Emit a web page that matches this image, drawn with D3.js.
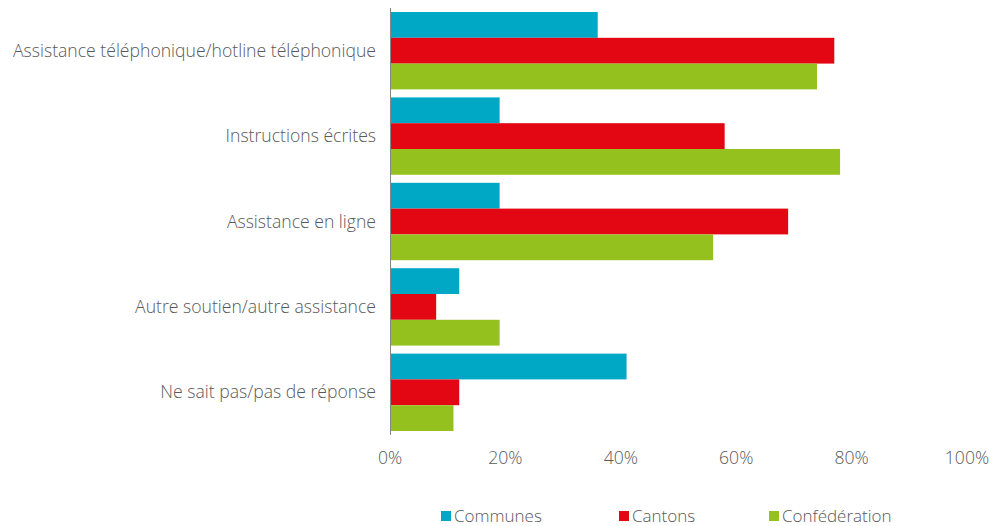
<!DOCTYPE html>
<meta charset="utf-8">
<html>
<style type='text/css'>
  body { margin:0; background:#fff; }
  text { font-family: "Open Sans", sans-serif; font-weight:300; fill:#595959; }
</style>
<script src="https://d3js.org/d3.v7.min.js"></script>
<body>
<svg id="chart" width="997" height="526"></svg>
<script>

// Data
var categories = ["Assistance téléphonique/hotline téléphonique", "Instructions écrites", "Assistance en ligne", "Autre soutien/autre assistance", "Ne sait pas/pas de réponse"];
var seriesNames = ["Communes", "Cantons", "Confédération"];
var communes = [36, 19, 19, 12, 41];
var cantons = [77, 58, 69, 8, 12];
var confederation = [74, 78, 56, 19, 11];
var tickValues = [0, 20, 40, 60, 80, 100];
var colors = ["#00a8c6", "#e30613", "#95c11f"];

var series = [communes, cantons, confederation];

var svg = d3.select("#chart");

// Scales
var x = d3.scaleLinear().domain([0, 100]).range([390, 967]);
var y = d3.scaleBand().domain(categories).range([8, 435])
  .paddingInner(0.094).paddingOuter(0.047);
var ySub = d3.scaleBand().domain(seriesNames).range([0, y.bandwidth()]);

// Bars
var groups = svg.append("g").selectAll("g")
  .data(categories)
  .enter().append("g")
  .attr("transform", function(d) { return "translate(0," + y(d) + ")"; });

groups.selectAll("rect")
  .data(function(d, i) { return seriesNames.map(function(s, j) { return {s: s, v: series[j][i], c: colors[j]}; }); })
  .enter().append("rect")
  .attr("x", x(0))
  .attr("y", function(d) { return ySub(d.s); })
  .attr("height", ySub.bandwidth())
  .attr("width", function(d) { return x(d.v) - x(0); })
  .attr("fill", function(d) { return d.c; });

// Category labels
svg.append("g").selectAll("text")
  .data(categories)
  .enter().append("text")
  .attr("x", 376)
  .attr("y", function(d) { return y(d) + y.bandwidth() / 2; })
  .attr("dy", "0.35em")
  .attr("text-anchor", "end")
  .style("font-size", "17.6px")
  .text(function(d) { return d; });

// Axis line
svg.append("line")
  .attr("x1", x(0) + 0.5).attr("x2", x(0) + 0.5)
  .attr("y1", 8).attr("y2", 435)
  .attr("stroke", "#868686").attr("stroke-width", 1);

// X tick labels
svg.append("g").selectAll("text")
  .data(tickValues)
  .enter().append("text")
  .attr("x", function(d) { return x(d); })
  .attr("y", 464)
  .attr("text-anchor", "middle")
  .style("font-size", "17.6px")
  .text(function(d) { return d + "%"; });

// Legend
var legendX = [441, 619, 769];
var legend = svg.append("g").selectAll("g")
  .data(seriesNames)
  .enter().append("g")
  .attr("transform", function(d, i) { return "translate(" + legendX[i] + ",511)"; });
legend.append("rect")
  .attr("width", 10).attr("height", 10)
  .attr("fill", function(d, i) { return colors[i]; });
legend.append("text")
  .attr("x", 13).attr("y", 5).attr("dy", "0.35em")
  .style("font-size", "17px")
  .text(function(d) { return d; });

</script>
</body>
</html>
